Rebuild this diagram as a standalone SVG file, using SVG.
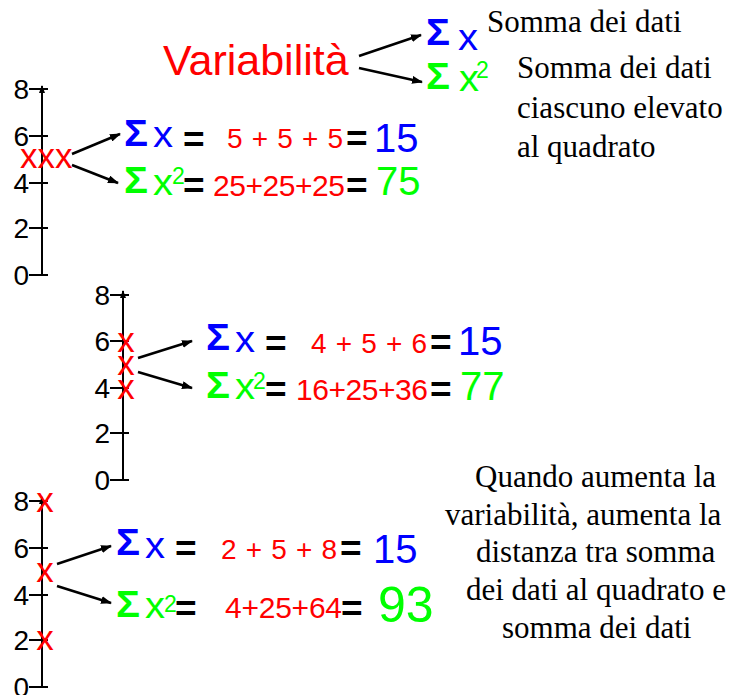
<svg xmlns="http://www.w3.org/2000/svg" width="734" height="695" viewBox="0 0 734 695">
<style>
.s{font-family:"Liberation Sans",Arial,sans-serif}
.f{font-family:"Liberation Serif","Times New Roman",serif;font-size:31px;fill:#000}
.r{fill:#FF0000}.b{fill:#0000FF}.g{fill:#00FF00}.k{fill:#000}
.sig{font-family:"Liberation Sans",Arial,sans-serif;font-weight:bold;font-size:36px}
.xv{font-family:"Liberation Sans",Arial,sans-serif;font-size:37px}
.sup{font-family:"Liberation Sans",Arial,sans-serif;font-size:23px}
.eq{font-family:"Liberation Sans",Arial,sans-serif;font-weight:bold;font-size:37px;fill:#000}
.big{font-family:"Liberation Sans",Arial,sans-serif;font-size:40px}
.lab{font-family:"Liberation Sans",Arial,sans-serif;font-size:28px;fill:#000;text-anchor:end}
.mk{font-family:"Liberation Sans",Arial,sans-serif;font-size:35px;fill:#FF0000}
.d1{font-family:"Liberation Sans",Arial,sans-serif;font-size:28px;fill:#FF0000}
.d2{font-family:"Liberation Sans",Arial,sans-serif;font-size:30px;fill:#FF0000}
.ax{stroke:#000;stroke-width:2;fill:none}
.ar{stroke:#000;stroke-width:2.5;fill:none;marker-end:url(#ah)}
</style>
<defs>
<marker id="ah" markerUnits="userSpaceOnUse" markerWidth="11" markerHeight="8" refX="10" refY="4" orient="auto"><path d="M0,0 L11,4 L0,8 z" fill="#000"/></marker>
<marker id="at" markerUnits="userSpaceOnUse" markerWidth="8" markerHeight="8" refX="7" refY="3" orient="auto"><path d="M0,0 L8,3 L0,6 z" fill="#000"/></marker>
</defs>

<g id="title">
<text class="s r" x="163" y="75" font-size="43">Variabilità</text>
</g>

<g id="legend-sum">
<text class="sig b" x="426" y="45" textLength="24" lengthAdjust="spacingAndGlyphs">Σ</text>
<text class="xv b" x="458" y="50" textLength="20" lengthAdjust="spacingAndGlyphs">x</text>
<text class="f" x="487" y="32">Somma dei dati</text>
</g>

<g id="legend-sumsq">
<text class="sig g" x="426" y="89" textLength="24" lengthAdjust="spacingAndGlyphs">Σ</text>
<text class="xv g" x="459" y="91" textLength="20" lengthAdjust="spacingAndGlyphs">x</text>
<text class="sup g" x="476" y="78">2</text>
<text class="f" x="517" y="78">Somma dei dati</text>
<text class="f" x="517" y="118">ciascuno elevato</text>
<text class="f" x="517" y="157">al quadrato</text>
</g>

<g id="axis1">
<line class="ax" x1="42" y1="275" x2="42" y2="86" marker-end="url(#at)"/>
<path class="ax" d="M29,89H48M29,136H48M29,183H48M29,228H48M29,275H48"/>
<text class="lab" x="29" y="99">8</text>
<text class="lab" x="29" y="146">6</text>
<text class="lab" x="29" y="193">4</text>
<text class="lab" x="29" y="238">2</text>
<text class="lab" x="29" y="285">0</text>
<text class="mk" x="20" y="168">xxx</text>
</g>

<g id="sum1">
<text class="sig b" x="124" y="146" textLength="24" lengthAdjust="spacingAndGlyphs">Σ</text>
<text class="xv b" x="153" y="147" textLength="20" lengthAdjust="spacingAndGlyphs">x</text>
<text class="eq" x="183" y="152">=</text>
<text class="d1" x="227" y="148" textLength="116" lengthAdjust="spacing">5 + 5 + 5</text>
<text class="eq" x="346" y="151">=</text>
<text class="big b" x="374" y="151.5">15</text>
</g>

<g id="sumsq1">
<text class="sig g" x="124" y="193" textLength="24" lengthAdjust="spacingAndGlyphs">Σ</text>
<text class="xv g" x="153" y="195" textLength="20" lengthAdjust="spacingAndGlyphs">x</text>
<text class="sup g" x="172" y="184">2</text>
<text class="eq" x="183" y="198">=</text>
<text class="d2" x="213" y="196" textLength="132" lengthAdjust="spacing">25+25+25</text>
<text class="eq" x="346" y="198">=</text>
<text class="big g" x="376" y="195">75</text>
</g>

<g id="axis2">
<line class="ax" x1="123" y1="480" x2="123" y2="291" marker-end="url(#at)"/>
<path class="ax" d="M110,295H129M110,341H129M110,388H129M110,433H129M110,480H129"/>
<text class="lab" x="110" y="305">8</text>
<text class="lab" x="110" y="351">6</text>
<text class="lab" x="110" y="398">4</text>
<text class="lab" x="110" y="443">2</text>
<text class="lab" x="110" y="490">0</text>
<text class="mk" x="126" y="352" text-anchor="middle">x</text>
<text class="mk" x="126" y="375" text-anchor="middle">x</text>
<text class="mk" x="126" y="399" text-anchor="middle">x</text>
</g>

<g id="sum2">
<text class="sig b" x="206" y="350" textLength="24" lengthAdjust="spacingAndGlyphs">Σ</text>
<text class="xv b" x="235" y="352" textLength="20" lengthAdjust="spacingAndGlyphs">x</text>
<text class="eq" x="265" y="356">=</text>
<text class="d1" x="311" y="353" textLength="116" lengthAdjust="spacing">4 + 5 + 6</text>
<text class="eq" x="430" y="355">=</text>
<text class="big b" x="458" y="355">15</text>
</g>

<g id="sumsq2">
<text class="sig g" x="206" y="398" textLength="24" lengthAdjust="spacingAndGlyphs">Σ</text>
<text class="xv g" x="235" y="399" textLength="20" lengthAdjust="spacingAndGlyphs">x</text>
<text class="sup g" x="253" y="389">2</text>
<text class="eq" x="265" y="402">=</text>
<text class="d2" x="296" y="400" textLength="132" lengthAdjust="spacing">16+25+36</text>
<text class="eq" x="430" y="402">=</text>
<text class="big g" x="460" y="400">77</text>
</g>

<g id="axis3">
<line class="ax" x1="42" y1="687" x2="42" y2="497" marker-end="url(#at)"/>
<path class="ax" d="M29,501H48M29,548H48M29,595H48M29,640H48M29,687H48"/>
<text class="lab" x="29" y="511">8</text>
<text class="lab" x="29" y="558">6</text>
<text class="lab" x="29" y="605">4</text>
<text class="lab" x="29" y="650">2</text>
<text class="lab" x="29" y="697">0</text>
<text class="mk" x="45" y="512" text-anchor="middle">x</text>
<text class="mk" x="45" y="582" text-anchor="middle">x</text>
<text class="mk" x="45" y="650" text-anchor="middle">x</text>
</g>

<g id="sum3">
<text class="sig b" x="116" y="555" textLength="24" lengthAdjust="spacingAndGlyphs">Σ</text>
<text class="xv b" x="145" y="558" textLength="20" lengthAdjust="spacingAndGlyphs">x</text>
<text class="eq" x="175" y="561">=</text>
<text class="d1" x="221" y="559" textLength="116" lengthAdjust="spacing">2 + 5 + 8</text>
<text class="eq" x="340" y="561">=</text>
<text class="big b" x="373" y="563">15</text>
</g>

<g id="sumsq3">
<text class="sig g" x="116" y="617" textLength="24" lengthAdjust="spacingAndGlyphs">Σ</text>
<text class="xv g" x="145" y="618" textLength="20" lengthAdjust="spacingAndGlyphs">x</text>
<text class="sup g" x="164" y="612">2</text>
<text class="eq" x="175" y="621">=</text>
<text class="d2" x="225" y="618" textLength="117" lengthAdjust="spacing">4+25+64</text>
<text class="eq" x="341" y="621">=</text>
<text class="s g" x="378" y="622" font-size="50">93</text>
</g>

<g id="note">
<text class="f" x="475" y="487">Quando aumenta la</text>
<text class="f" x="445" y="525">variabilità, aumenta la</text>
<text class="f" x="476" y="562">distanza tra somma</text>
<text class="f" x="466" y="600">dei dati al quadrato e</text>
<text class="f" x="502" y="638">somma dei dati</text>
</g>

<g id="connectors">
<line class="ar" x1="359" y1="56" x2="421" y2="35"/>
<line class="ar" x1="359" y1="68" x2="422" y2="82"/>
<line class="ar" x1="72" y1="154" x2="120" y2="134"/>
<line class="ar" x1="72" y1="165" x2="118" y2="183"/>
<line class="ar" x1="138" y1="358" x2="192" y2="341"/>
<line class="ar" x1="138" y1="372" x2="192" y2="388"/>
<line class="ar" x1="57" y1="564" x2="111" y2="546"/>
<line class="ar" x1="57" y1="586" x2="111" y2="603"/>
</g>
</svg>
